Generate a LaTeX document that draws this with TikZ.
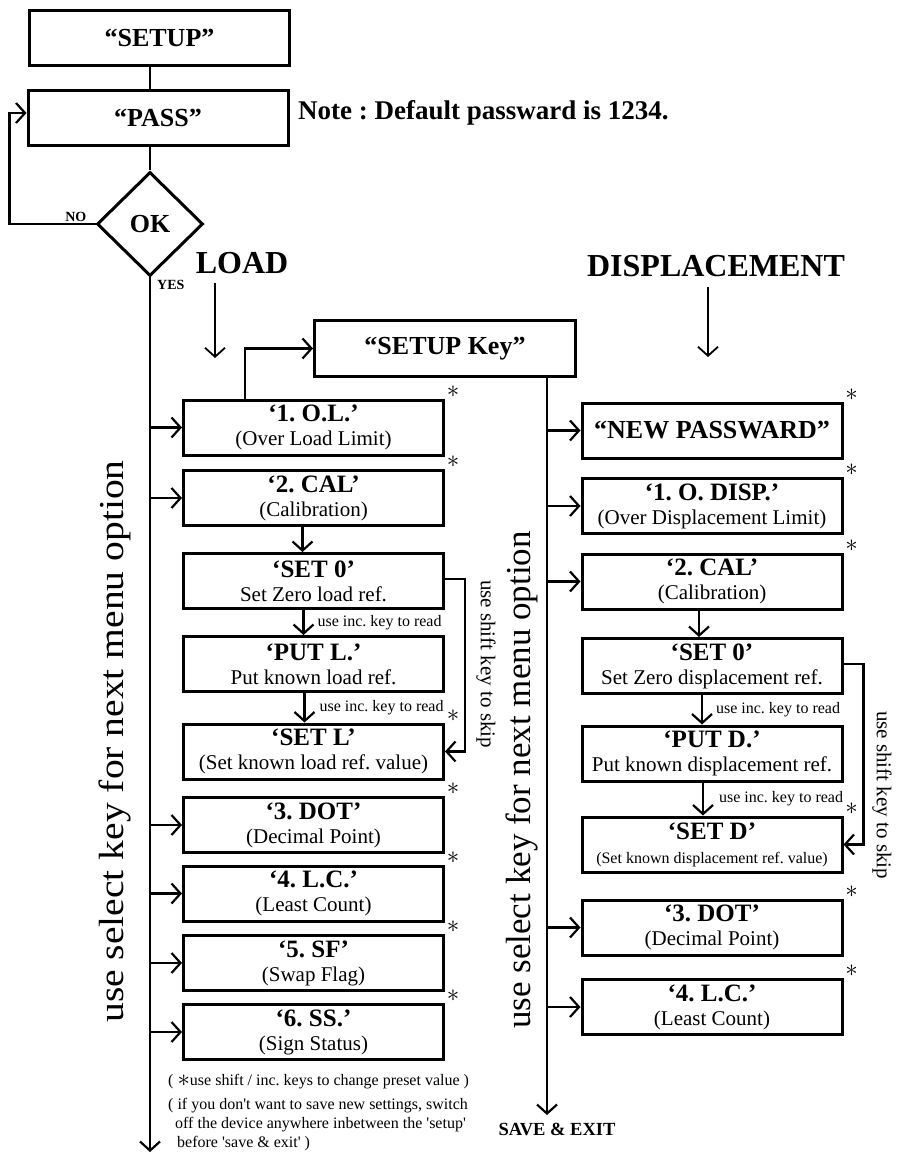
\documentclass[tikz,border=0pt]{standalone}
\usepackage{fontspec}
\usepackage{graphicx}
\setmainfont{Liberation Serif}
\usetikzlibrary{arrows.meta,shapes.geometric}
\newcommand{\fsz}[1]{\fontsize{#1}{#1}\selectfont}
\newcommand{\ttl}[1]{{\fontsize{25}{25}\selectfont\bfseries #1}}

\begin{document}
\frenchspacing
\begin{tikzpicture}[x=1pt,y=-1pt,
  box/.style={draw,line width=3pt,minimum width=260pt,minimum height=55pt,align=center,inner sep=0pt,font=\fontsize{21}{24}\selectfont},
  arr/.style={line width=2.2pt,-{Straight Barb[length=9pt,width=20pt]}},
  ln/.style={line width=2.2pt},
  inc/.style={midway,anchor=west,inner sep=0pt,font=\fsz{16}},
  skiptxt/.style={rotate=-90,font=\fsz{21},inner sep=0pt},
  seltxt/.style={rotate=90,font=\fsz{35},inner sep=0pt},
  astmark/.style={inner sep=0pt,font=\fsz{25}}]
 \useasboundingbox (0,0) rectangle (897,1155);
 % top part
 \node[box,font=\fsz{26}\bfseries] (setup) at (159.5,38) {“SETUP”};
 \node[box,font=\fsz{26}\bfseries] (pass) at (158,118) {“PASS”};
 \node[draw,diamond,line width=3pt,minimum width=106pt,minimum height=104pt,inner sep=0pt,font=\fsz{26}\bfseries] (ok) at (150,224) {OK};
 \node[anchor=west,inner sep=0pt,font=\fsz{27}\bfseries] (note) at (298,113) {Note : Default passward is 1234.};
 \draw[ln] (setup.south -| ok.north) -- (pass.north -| ok.north);
 \draw[ln] (pass.south -| ok.north) -- (ok.north);
 \draw[arr] (ok.west) -- ++(-86,0) |- ([yshift=5pt]pass.west);
 \node[anchor=south east,inner sep=1pt,font=\fsz{14}\bfseries] (no) at ([xshift=-8pt,yshift=1pt]ok.west) {NO};
 \node[anchor=north west,inner sep=1pt,font=\fsz{14}\bfseries] (yes) at ([xshift=6pt,yshift=-2pt]ok.south) {YES};
 \draw[arr] (ok.south) -- (150,1152) coordinate (lend);
 % headings
 \node[font=\fsz{32}\bfseries] (load) at (242,263) {LOAD};
 \node[font=\fsz{32}\bfseries] (disp) at (716,266) {DISPLACEMENT};
 \draw[arr,line width=1.8pt] (215,283) coordinate (la) -- (215,358);
 \draw[arr,line width=1.8pt] (708,287) coordinate (da) -- (708,357);
 \node[box,minimum width=261pt,minimum height=56pt,font=\fsz{26}\bfseries] (skey) at (445,348.5) {“SETUP Key”};
 % load menu
 \foreach \nm/\yy/\hd/\tx in {ol/427.5/{‘1. O.L.’}/{(Over Load Limit)},
     cal/498/{‘2. CAL’}/{(Calibration)},
     setzero/581/{‘SET 0’}/{Set Zero load ref.},
     putl/664/{‘PUT L.’}/{Put known load ref.},
     setl/751.5/{‘SET L’}/{(Set known load ref. value)},
     dot/825/{‘3. DOT’}/{(Decimal Point)},
     lc/893.5/{‘4. L.C.’}/{(Least Count)},
     sf/963/{‘5. SF’}/{(Swap Flag)},
     ss/1032/{‘6. SS.’}/{(Sign Status)}}
   \node[box] (\nm) at (313.5,\yy) {\ttl{\hd}\\\tx};
 % displacement menu
 \node[box,font=\fsz{26}\bfseries] (newpass) at (712,430.5) {“NEW PASSWARD”};
 \foreach \nm/\yy/\hd/\tx in {odisp/506/{‘1. O. DISP.’}/{(Over Displacement Limit)},
     caltwo/581.5/{‘2. CAL’}/{(Calibration)},
     setzerotwo/666/{‘SET 0’}/{Set Zero displacement ref.},
     putd/753.5/{‘PUT D.’}/{Put known displacement ref.},
     setd/844.5/{‘SET D’}/{\fsz{16}(Set known displacement ref. value)},
     dottwo/927.5/{‘3. DOT’}/{(Decimal Point)},
     lctwo/1007/{‘4. L.C.’}/{(Least Count)}}
   \node[box] (\nm) at (712,\yy) {\ttl{\hd}\\\tx};
 % connectors
 \draw[arr] ([xshift=-68.5pt]ol.north) |- (skey.west);
 \draw[arr] ([xshift=102pt]skey.south) coordinate (rtop) -- (547,1115) coordinate (rend);
 \node[anchor=north,inner sep=0pt,font=\fsz{18.5}\bfseries] (save) at ([xshift=10pt,yshift=-8pt]rend) {SAVE \& EXIT};
 \foreach \nm in {ol,cal,dot,lc,sf,ss}
   \draw[arr] (\nm.west -| ok.south) -- (\nm.west);
 \foreach \nm in {newpass,odisp,caltwo,dottwo,lctwo}
   \draw[arr] (\nm.west -| rtop) -- (\nm.west);
 \draw[arr] ([xshift=-11pt]cal.south) -- ([xshift=-11pt]setzero.north);
 \draw[arr] ([xshift=-10pt]setzero.south) -- node[inc,xshift=13pt]{use inc. key to read} ([xshift=-10pt]putl.north);
 \draw[arr] ([xshift=-9pt]putl.south) -- node[inc,xshift=14pt]{use inc. key to read} ([xshift=-9pt]setl.north);
 \draw[arr] ([xshift=-13pt]caltwo.south) -- ([xshift=-13pt]setzerotwo.north);
 \draw[arr] ([xshift=-10pt]setzerotwo.south) -- node[inc,xshift=13pt]{use inc. key to read} ([xshift=-10pt]putd.north);
 \draw[arr] ([xshift=-9pt]putd.south) -- node[inc,xshift=15pt]{use inc. key to read} ([xshift=-9pt]setd.north);
 \draw[arr] ([yshift=2pt]setzero.east) -- ++(20,0) |- (setl.east);
 \draw[arr] ([yshift=2pt]setzerotwo.east) -- ++(20,0) |- (setd.east);
 \node[skiptxt] (skipl) at (486,664) {use shift key to skip};
 \node[skiptxt] (skipr) at (882,795) {use shift key to skip};
 \node[seltxt] (sell) at (115,741.5) {\scalebox{1.13}[1]{use select key for next menu option}};
 \node[seltxt] (selr) at (522,780) {use select key for next menu option};
 % preset marks
 \foreach \nm in {ol,cal,setl,dot,lc,sf,ss,newpass,odisp,caltwo,setd,dottwo,lctwo}
   \node[astmark] at ([xshift=8pt,yshift=7pt]\nm.north east) {$\ast$};
 \node[anchor=west,inner sep=0pt,font=\fsz{16}] (hint) at (168,1082) {( {\fsz{26}\raisebox{-1pt}{$\ast$}}use shift / inc. keys to change preset value )};
 \node[anchor=north west,align=left,inner sep=0pt,font=\fontsize{16}{19}\selectfont] (warn) at (168,1098) {( if you don\textquotesingle t want to save new settings, switch\\\hspace*{7pt}off the device anywhere inbetween the \textquotesingle setup\textquotesingle\\\hspace*{9pt}before \textquotesingle save \& exit\textquotesingle\ )};
\end{tikzpicture}
\end{document}
